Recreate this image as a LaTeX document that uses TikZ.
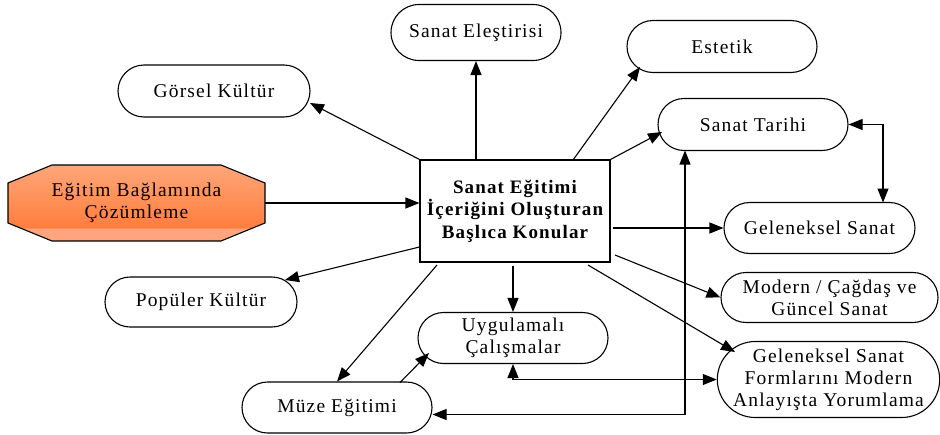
\documentclass[tikz,border=0pt]{standalone}
\usepackage{fontspec}
\setmainfont{Liberation Serif}[LetterSpace=6]
\usetikzlibrary{shapes.misc,arrows.meta,calc}
\definecolor{octtop}{RGB}{255,166,122}
\definecolor{octbot}{RGB}{255,126,62}
\definecolor{octband}{RGB}{255,164,124}
\pgfdeclareverticalshading{octshade}{100bp}{color(0bp)=(octband); color(33bp)=(octband); color(34bp)=(octbot); color(75bp)=(octtop); color(100bp)=(octtop)}
\begin{document}
\begin{tikzpicture}[x=1pt,y=-1pt,
  every node/.style={font=\fontsize{19.5}{22}\selectfont, align=center, inner sep=0pt},
  term/.style={draw, rounded rectangle, line width=1.1pt},
  arr/.style={-{Triangle[length=14pt,width=11pt]}, line width=1.1pt},
  darr/.style={{Triangle[length=14pt,width=11pt]}-{Triangle[length=14pt,width=11pt]}, line width=1.1pt}]
\useasboundingbox (0,0) rectangle (940,434);

\node[term, minimum width=170, minimum height=56] (ele) at (476,32.5) {Sanat Eleştirisi};
\node[term, minimum width=190, minimum height=52] (est) at (722,46.5) {Estetik};
\node[term, minimum width=192, minimum height=52] (gor) at (214,91) {Görsel Kültür};
\node[term, minimum width=190, minimum height=52] (tar) at (753,124.5) {Sanat Tarihi};
\coordinate (octc) at (136.5,203);
\path[draw, line width=1.1pt, shading=octshade]
  ($(octc)+(-84.5,-38)$) -- ($(octc)+(84.5,-38)$) -- ($(octc)+(128.5,-20)$) -- ($(octc)+(128.5,20)$)
  -- ($(octc)+(84.5,38)$) -- ($(octc)+(-84.5,38)$) -- ($(octc)+(-128.5,20)$) -- ($(octc)+(-128.5,-20)$) -- cycle;
\node[minimum width=257, minimum height=76] (oct) at (octc) {Eğitim Bağlamında\\Çözümleme};
\node[draw, rectangle, line width=1.1pt, minimum width=190, minimum height=102,
      font=\fontsize{19}{22.5}\selectfont\bfseries] (cen) at (515,211)
      {Sanat Eğitimi\\İçeriğini Oluşturan\\Başlıca Konular};
\node[term, minimum width=191, minimum height=51] (gel) at (819.5,228) {Geleneksel Sanat};
\node[term, minimum width=192, minimum height=50] (pop) at (201,302) {Popüler Kültür};
\node[term, minimum width=217, minimum height=50] (mod) at (829.5,297.5) {Modern / Çağdaş ve\\Güncel Sanat};
\node[term, minimum width=190, minimum height=51] (uyg) at (513,338) {Uygulamalı\\Çalışmalar};
\node[term, minimum width=190, minimum height=51] (muz) at (337,407.5) {Müze Eğitimi};
\node[term, minimum width=219, minimum height=76] (for) at (828.5,379.5) {Geleneksel Sanat\\Formlarını Modern\\Anlayışta Yorumlama};

\draw[arr] (cen.north -| ele.south) -- (ele.south);
\draw[arr] ($(cen)+(58,-51)$) -- ($(est)+(-82,20.5)$);
\draw[arr] (cen.north east) -- ($(tar)+(-91,7.5)$);
\draw[darr] (tar.east) -| ($(gel)+(63.5,-25.5)$);
\draw[arr] (cen.north west) -- ($(gor)+(96,12)$);
\draw[arr] (oct.east) -- (oct.east -| cen.west);
\draw[arr] ($(cen.east |- gel.west)+(2,0)$) -- (gel.west);
\draw[arr] ($(cen)+(100,44)$) -- (mod.west);
\draw[arr] ($(cen)+(73,54)$) -- ($(for)+(-93.5,-27.5)$);
\draw[arr] ($(cen.west)+(0,36)$) -- ($(pop)+(84,-22)$);
\draw[arr] ($(uyg.north |- cen.south)+(0,3)$) -- (uyg.north);
\draw[arr] ($(cen)+(-78,54)$) -- (muz.north);
\draw[arr] ($(muz)+(63,-25)$) -- ($(uyg)+(-84,15)$);
\draw[darr] (uyg.south) |- (for.west);
\draw[darr] ($(muz.east)+(0,7)$) -| ($(tar)+(-68,26)$);
\end{tikzpicture}
\end{document}
